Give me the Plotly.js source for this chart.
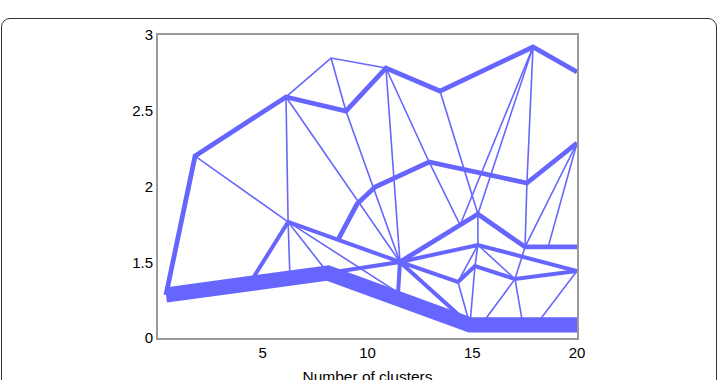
<!DOCTYPE html>
<html><head><meta charset="utf-8">
<script src="https://cdn.plot.ly/plotly-3.0.1.min.js"></script>
<style>
html,body{margin:0;padding:0;background:#fff;}
#wrap{position:relative;width:719px;height:380px;overflow:hidden;}
#chart{position:absolute;left:0;top:0;width:719px;height:400px;}
#frame{position:absolute;left:1px;top:18px;width:716px;height:430px;box-sizing:border-box;border:1.3px solid #333;border-radius:9px;pointer-events:none;}
</style></head><body>
<div id="wrap"><div id="chart"></div><div id="frame"></div></div>
<script>
// nodes of the cluster tree (x = number of clusters, y = value)
const nodeNames = ['A','B','C','D','E','F','G','J','K','L','M1','M2','M3','M4','M5','M6','H','V','P1','P2','P3','Q1','Q2','R1','R2','R3','N4','N6','N8','N15','N20','S','W','T1','T2','T3'];
const nodeX = [0.38,1.77,6.11,6.21,8.26,8.97,10.88,13.46,17.90,20.0,8.59,9.50,10.36,12.94,17.61,20.0,11.55,14.42,15.27,17.52,20.0,15.27,20.0,14.32,15.13,17.04,4.39,6.30,8.11,14.89,20.0,11.46,18.62,17.42,15.42,18.04];
const nodeY = [1.284,2.201,2.591,1.766,2.848,2.498,2.782,2.630,2.921,2.756,1.647,1.884,1.997,2.162,2.023,2.287,1.502,1.746,1.818,1.601,1.601,1.614,1.442,1.370,1.475,1.389,1.363,1.396,1.429,1.086,1.086,1.30,1.60,1.086,1.086,1.086];

// edges between clusters and their weights (shared members)
const edgeFrom = ['A','N8','N15',
  'A','B','C','F','G','J','K',
  'M1','M2','M3','M4','M5',
  'H','V','P1','P2',
  'N8','H','Q1',
  'D','M1',
  'H','R1','R2','R3',
  'H','H','D',
  'B','C','E','E','C','D','C','F','G','G','M4','J','K','K','K','M5','M6','M6','D','D','P1','Q1','Q1','Q1','R1','R2','R3','R3','Q2','P2'];
const edgeTo = ['N8','N15','N20',
  'B','C','F','G','J','K','L',
  'M2','M3','M4','M5','M6',
  'V','P1','P2','P3',
  'H','Q1','Q2',
  'M1','H',
  'R1','R2','R3','Q2',
  'S','N15','N4',
  'D','E','G','F','D','N6','H','H','H','M4','V','P1','V','P1','M5','P2','P2','W','N8','S','Q1','R2','R1','R3','N15','N15','T1','T2','T3','R3'];
const edgeWeight = [9.5,9.5,9.5,
  3,3,3,3,3,3,3,
  3,3,3,3,3,
  3,3,3,3,
  2.5,2.5,2.5,
  2.5,2.5,
  2.5,2.5,2.5,2.5,
  2.5,2.5,2.5,
  1,1,1,1,1,1,1,1,1,1,1,1,1,1,1,1,1,1,1,1,1,1,1,1,1,1,1,1,1,1];

const xTickVals = [5,10,15,20];
const yTickVals = [1,1.5,2,2.5,3];
const yTickText = ['0','1.5','2','2.5','3'];
const xTitle = 'Number of clusters';

const lineColor = 'rgb(102,102,255)';
const idx = {};
nodeNames.forEach((n,i)=>idx[n]=i);

const weights = [...new Set(edgeWeight)].sort((a,b)=>a-b);
const traces = weights.map(w=>{
  const xs=[], ys=[];
  let last=null;
  edgeFrom.forEach((f,i)=>{
    if(edgeWeight[i]!==w) return;
    const t=edgeTo[i];
    if(last!==f){
      if(xs.length){xs.push(null);ys.push(null);}
      xs.push(nodeX[idx[f]]); ys.push(nodeY[idx[f]]);
    }
    xs.push(nodeX[idx[t]]); ys.push(nodeY[idx[t]]);
    last=t;
  });
  return {type:'scatter',mode:'lines',x:xs,y:ys,connectgaps:false,hoverinfo:'skip',
    line:{color:lineColor,width:1.6*w},showlegend:false};
});

const tickFont = {family:'"Liberation Sans", Arial, sans-serif', size:15, color:'#000'};
const titleFont = {family:'"Liberation Sans", Arial, sans-serif', size:15.5, color:'#000'};
const layout = {
  width:719,height:400,
  margin:{l:158,r:142,t:35,b:62,pad:0},
  paper_bgcolor:'rgba(0,0,0,0)',plot_bgcolor:'#fff',
  font:tickFont,
  xaxis:{range:[0,20],tickmode:'array',tickvals:xTickVals,ticks:'',showgrid:false,zeroline:false,
    showline:true,mirror:true,linecolor:'#9a9a9a',linewidth:2,tickfont:tickFont,automargin:false,
    title:{text:xTitle,font:titleFont,standoff:11}},
  yaxis:{range:[1,3],tickmode:'array',tickvals:yTickVals,ticktext:yTickText,ticks:'',showgrid:false,zeroline:false,
    showline:true,mirror:true,linecolor:'#9a9a9a',linewidth:2,tickfont:tickFont,automargin:false}
};
Plotly.newPlot('chart',traces,layout,{displayModeBar:false,staticPlot:true});
</script>
</body></html>
